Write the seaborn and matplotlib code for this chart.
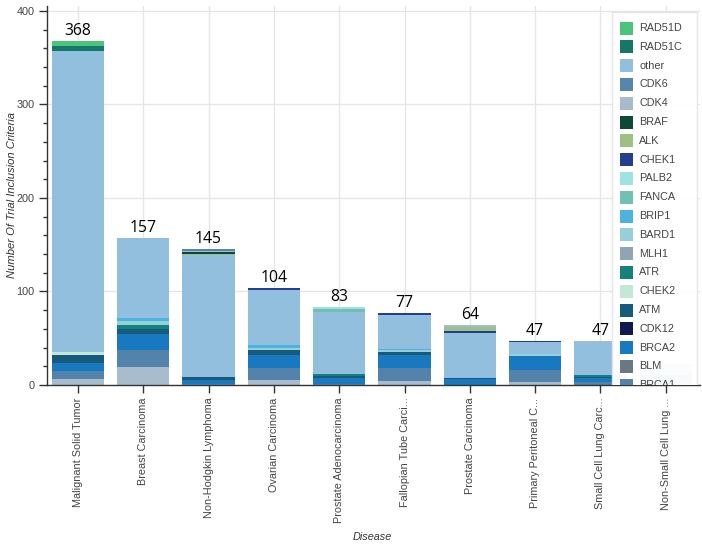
import numpy as np
import pandas as pd
import matplotlib
matplotlib.use("Agg")
import matplotlib.pyplot as plt
from matplotlib.patches import Rectangle
from matplotlib.ticker import MultipleLocator
import seaborn as sns

# -------------------------------------------------------------------
# Data
# -------------------------------------------------------------------
diseases = ["Malignant Solid Tumor", "Breast Carcinoma", "Non-Hodgkin Lymphoma",
            "Ovarian Carcinoma", "Prostate Adenocarcinoma", "Fallopian Tube Carcinoma",
            "Prostate Carcinoma", "Primary Peritoneal Carcinoma",
            "Small Cell Lung Carcinoma", "Non-Small Cell Lung Carcinoma"]
tick_labels = ["Malignant Solid Tumor", "Breast Carcinoma", "Non-Hodgkin Lymphoma",
               "Ovarian Carcinoma", "Prostate Adenocarcinoma", "Fallopian Tube Carci...",
               "Prostate Carcinoma", "Primary Peritoneal C...", "Small Cell Lung Carc...",
               "Non-Small Cell Lung ..."]

# stack order, bottom to top ("unlisted" = legend entry hidden below the frame)
unlisted = [6, 19, 0, 5, 0, 4, 0, 3, 0, 0]
brca1 = [9, 18, 1, 13, 1, 14, 0, 13, 3, 3]
blm = [0, 0, 0, 0, 0, 0, 0, 0, 0, 0]
brca2 = [9, 18, 4, 14, 6, 14, 6, 15, 4, 6]
cdk12 = [0, 0, 0, 0, 0, 0, 0, 0, 0, 0]
atm = [8, 5, 4, 5, 3, 3, 1, 0, 2, 2]
chek2 = [3, 0, 0, 0, 0, 0, 0, 0, 0, 0]
atr = [0, 4, 0, 0, 2, 0, 0, 0, 2, 0]
mlh1 = [0, 0, 0, 0, 0, 0, 0, 0, 0, 0]
bard1 = [0, 4, 0, 3, 0, 2, 0, 2, 0, 0]
brip1 = [0, 4, 0, 3, 0, 2, 0, 0, 0, 0]
other = [322, 85, 130, 59, 66, 36, 49, 13, 35, 9]
fanca = [0, 0, 0, 0, 3, 0, 0, 0, 0, 0]
palb2 = [0, 0, 0, 0, 2, 0, 0, 0, 0, 0]
chek1 = [0, 0, 0, 2, 0, 2, 2, 1, 0, 0]
alk = [0, 0, 1, 0, 0, 0, 4, 0, 0, 2]
braf = [0, 0, 2, 0, 0, 0, 0, 0, 0, 0]
cdk4 = [0, 0, 1, 0, 0, 0, 2, 0, 1, 0]
cdk6 = [0, 0, 2, 0, 0, 0, 0, 0, 0, 0]
rad51c = [5, 0, 0, 0, 0, 0, 0, 0, 0, 0]
rad51d = [6, 0, 0, 0, 0, 0, 0, 0, 0, 0]

genes = ["unlisted", "BRCA1", "BLM", "BRCA2", "CDK12", "ATM", "CHEK2", "ATR", "MLH1",
         "BARD1", "BRIP1", "other", "FANCA", "PALB2", "CHEK1", "ALK", "BRAF", "CDK4",
         "CDK6", "RAD51C", "RAD51D"]
values = [unlisted, brca1, blm, brca2, cdk12, atm, chek2, atr, mlh1, bard1, brip1,
          other, fanca, palb2, chek1, alk, braf, cdk4, cdk6, rad51c, rad51d]

colors = {
    "unlisted": "#a8bccd", "BRCA1": "#5383aa", "BLM": "#6a7883", "BRCA2": "#1878c0",
    "CDK12": "#111a50", "ATM": "#165a7c", "CHEK2": "#c3e8d7", "ATR": "#14817a",
    "MLH1": "#8fa4b4", "BARD1": "#95d0d8", "BRIP1": "#4cb3de", "other": "#93bfdf",
    "FANCA": "#70c0b3", "PALB2": "#9fe2e2", "CHEK1": "#243f8d", "ALK": "#9dc184",
    "BRAF": "#0b4b36", "CDK4": "#a6bbce", "CDK6": "#5686ab", "RAD51C": "#147868",
    "RAD51D": "#4dc47b",
}

# legend as listed in the reference; it runs past the bottom of the frame
legend_names = ["RAD51D", "RAD51C", "other", "CDK6", "CDK4", "BRAF", "ALK", "CHEK1",
                "PALB2", "FANCA", "BRIP1", "BARD1", "MLH1", "ATR", "CHEK2", "ATM",
                "CDK12", "BRCA2", "BLM", "BRCA1"]

# -------------------------------------------------------------------
# Plot
# -------------------------------------------------------------------
sns.set_theme(style="whitegrid")
plt.rcParams["font.family"] = ["Liberation Sans", "DejaVu Sans"]

fig = plt.figure(figsize=(7.02, 5.46), dpi=100)
ax = fig.add_axes([47 / 702, 1 - 385 / 546, 653 / 702, 379 / 546])

df = pd.DataFrame(np.array(values).T, columns=genes)
df.insert(0, "disease", diseases)
cum = df[genes].cumsum(axis=1)

# draw cumulative bars from the top layer down so lower layers cover them
for g in genes[::-1]:
    heights = np.where(df[g] > 0, cum[g], 0)
    sns.barplot(x=df["disease"], y=heights, order=diseases, color=colors[g],
                saturation=1, width=0.8, linewidth=0, ax=ax, zorder=2)

# totals above the bars (the last bar sits under the legend, its label is hidden)
totals = df[genes].sum(axis=1)
for i, t in enumerate(totals[:-1]):
    ax.text(i, t + 2.2, str(t), ha="center", va="bottom", fontsize=11.3,
            family=["Open Sans", "DejaVu Sans"], color="black", zorder=3)

ax.set_xlim(-0.475, 9.525)
ax.set_ylim(0, 405.3)
ax.set_xticks(range(len(diseases)))
ax.set_xticklabels(tick_labels, rotation=90, va="top", ha="center")
ax.set_yticks([0, 100, 200, 300, 400])
ax.yaxis.set_minor_locator(MultipleLocator(20))
ax.set_xlabel("")
ax.set_ylabel("")

ax.grid(True, color="#e6e6e6", linewidth=1)
ax.set_axisbelow(True)
for side in ["top", "right"]:
    ax.spines[side].set_visible(False)
for side in ["left", "bottom"]:
    ax.spines[side].set_color("#333333")
    ax.spines[side].set_linewidth(1)
ax.tick_params(axis="both", which="major", direction="out", length=6, width=1,
               color="#333333", labelsize=7.8, labelcolor="#444444", pad=3)
ax.tick_params(axis="x", which="major", bottom=True)
ax.tick_params(axis="y", which="major", left=True)
ax.tick_params(axis="y", which="minor", left=True, direction="out", length=3,
               width=1, color="#333333")

# legend drawn by hand so the frame clips it like the original
ax.add_patch(Rectangle((0.865, -0.3), 0.13, 1.284, transform=ax.transAxes,
                       facecolor="white", edgecolor="#e5e5e5", linewidth=1,
                       alpha=0.97, clip_on=True, zorder=5))
for i, name in enumerate(legend_names):
    ya = (385 - (28 + 18.8 * i)) / 379
    ax.add_patch(Rectangle((0.8775, ya - 0.0172), 0.0199, 0.0343,
                           transform=ax.transAxes, facecolor=colors[name],
                           edgecolor="none", clip_on=True, zorder=6))
    ax.text(0.9066, ya, name, transform=ax.transAxes, va="center", ha="left",
            fontsize=7.8, color="#444444", clip_on=True, zorder=6)

fig.text(12 / 702, 1 - 195 / 546, "Number Of Trial Inclusion Criteria", rotation=90,
         ha="center", va="center", fontsize=8.1, style="italic", color="#333333")
fig.text(372 / 702, 1 - 537 / 546, "Disease", ha="center", va="center",
         fontsize=7.8, style="italic", color="#333333")

fig.savefig("out.png", dpi=100)
